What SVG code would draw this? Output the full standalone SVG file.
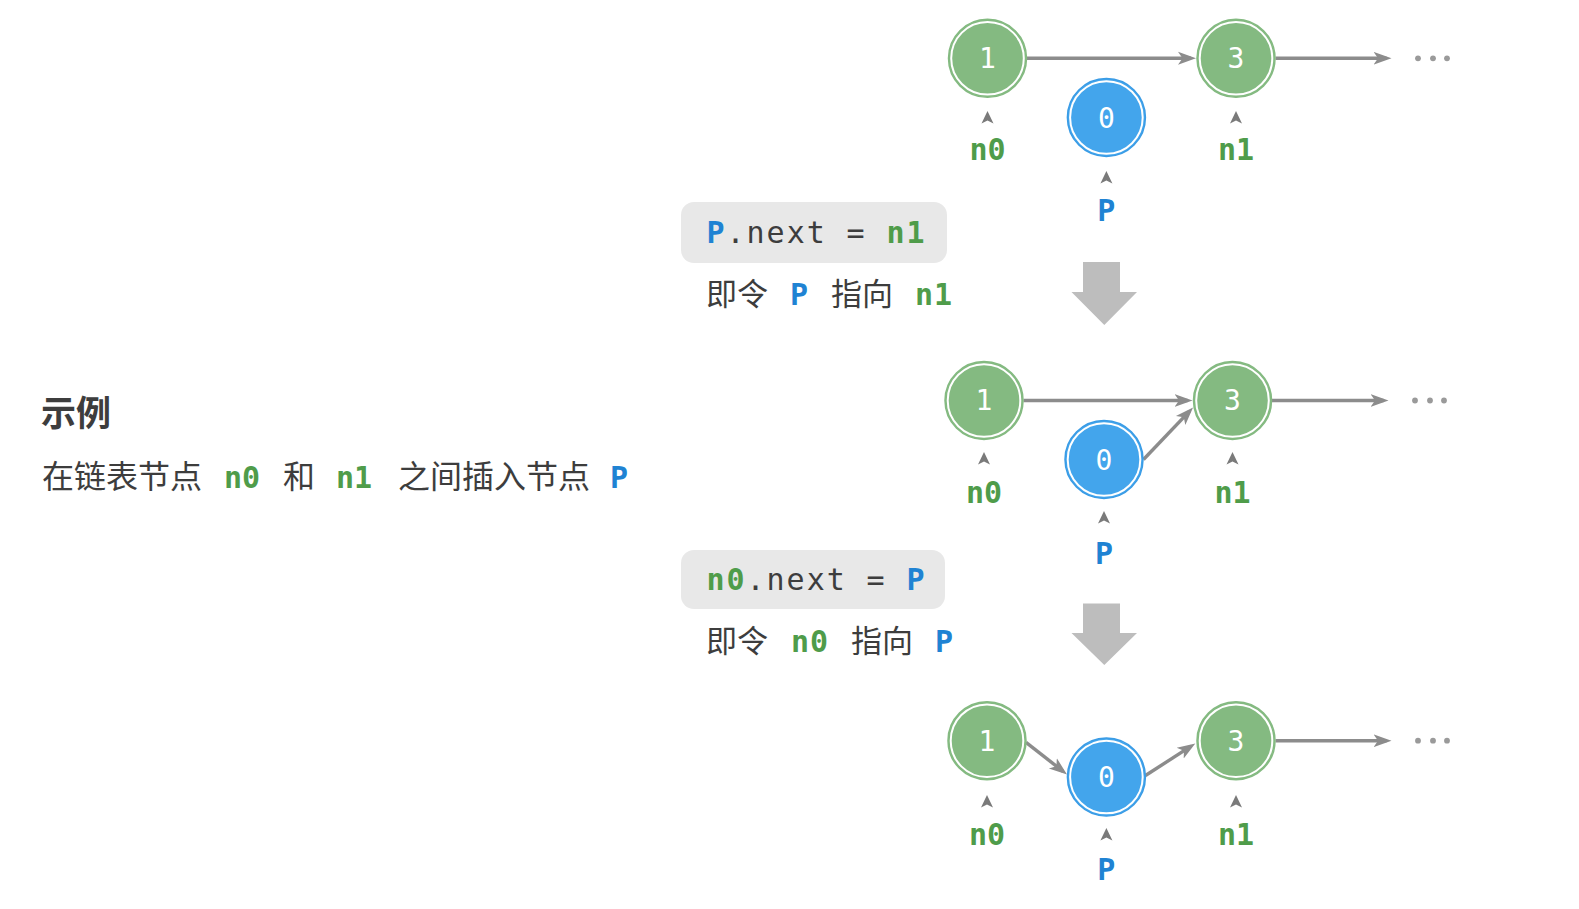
<svg xmlns="http://www.w3.org/2000/svg" xmlns:xlink="http://www.w3.org/1999/xlink" width="1579" height="909" viewBox="0 0 1579 909">
<style>
.cjk{font-family:"Noto Sans CJK SC","Noto Sans",sans-serif;fill:#3d3d3d}
.mono{font-family:"DejaVu Sans Mono","Liberation Mono",monospace}
.code{font-family:"DejaVu Sans Mono","Liberation Mono",monospace;font-size:30px;fill:#3d3d3d}
.g{fill:#4f9c4a;font-weight:bold}
.b{fill:#1f83d3;font-weight:bold}
.lbl{font-family:"DejaVu Sans Mono","Liberation Mono",monospace;font-size:30px;font-weight:bold;text-anchor:middle}
.num{font-family:"DejaVu Sans Mono","Liberation Mono",monospace;font-size:28px;fill:#ffffff;text-anchor:middle}
.gn{fill:#84ba81;stroke:#84ba81;stroke-width:1.5}
.bn{fill:#43a5ec;stroke:#3a9ce6;stroke-width:1.5}
.ring{fill:none;stroke:#ffffff;stroke-width:2}
.edge{stroke:#8c8c8c;stroke-width:3.4;fill:none}
.dot{fill:#9a9a9a}
.ptr{fill:#7a7a7a}
.box{fill:#e8e8e8}
.down{fill:#bdbdbd}
</style>
<defs>
<marker id="ah" markerUnits="userSpaceOnUse" markerWidth="20" markerHeight="16" viewBox="0 0 20 16" refX="13" refY="8" orient="auto">
<path d="M0,1.5 L18,8 L0,14.5 L4.5,8 Z" fill="#8c8c8c"/>
</marker>
<path id="pt" d="M0,-6 L6,6.5 L0,3.5 L-6,6.5 Z"/>
</defs>
<rect width="1579" height="909" fill="#ffffff"/>

<g id="intro">
<text class="cjk" x="41" y="426" font-size="35" font-weight="bold">示例</text>
<text class="cjk" x="42" y="488" font-size="32">在链表节点</text>
<text class="mono g" x="224" y="488" font-size="30">n0</text>
<text class="cjk" x="283" y="488" font-size="32">和</text>
<text class="mono g" x="336" y="488" font-size="30">n1</text>
<text class="cjk" x="398" y="488" font-size="32">之间插入节点</text>
<text class="mono b" x="610" y="488" font-size="30">P</text>
</g>

<g id="step1-code">
<rect class="box" x="681" y="202" width="266" height="61" rx="13"/>
<text class="code" y="243"><tspan class="b" x="706.5">P</tspan><tspan x="726.5" letter-spacing="2">.next</tspan><tspan x="846.5">=</tspan><tspan class="g" x="886.5" letter-spacing="2">n1</tspan></text>
<text class="cjk" x="706" y="305" font-size="31">即令</text>
<text class="mono b" x="790" y="305" font-size="30">P</text>
<text class="cjk" x="831" y="305" font-size="31">指向</text>
<text class="mono g" x="915" y="305" font-size="30" letter-spacing="1">n1</text>
</g>

<g id="step2-code">
<rect class="box" x="681" y="550" width="264" height="59" rx="13"/>
<text class="code" y="590"><tspan class="g" x="706.5" letter-spacing="2">n0</tspan><tspan x="746.5" letter-spacing="2">.next</tspan><tspan x="866.5">=</tspan><tspan class="b" x="906.5">P</tspan></text>
<text class="cjk" x="706" y="652" font-size="31">即令</text>
<text class="mono g" x="791" y="652" font-size="30" letter-spacing="1">n0</text>
<text class="cjk" x="851" y="652" font-size="31">指向</text>
<text class="mono b" x="935" y="652" font-size="30">P</text>
</g>

<g id="down-arrow-1">
<path class="down" d="M1083,262 L1120,262 L1120,292 L1137,292 L1104.3,325 L1071.5,292 L1083,292 Z"/>
</g>
<g id="down-arrow-2">
<path class="down" d="M1083,603.5 L1120,603.5 L1120,633 L1137,633 L1104.3,665 L1071.5,633 L1083,633 Z"/>
</g>

<g id="connectors">
<line class="edge" x1="1027" y1="58.3" x2="1191" y2="58.3" marker-end="url(#ah)"/>
<line class="edge" x1="1275.5" y1="58.3" x2="1386.5" y2="58.3" marker-end="url(#ah)"/>
<line class="edge" x1="1023.5" y1="400.5" x2="1187.5" y2="400.5" marker-end="url(#ah)"/>
<line class="edge" x1="1143.5" y1="459.5" x2="1189.6" y2="411.2" marker-end="url(#ah)"/>
<line class="edge" x1="1272" y1="400.5" x2="1383.5" y2="400.5" marker-end="url(#ah)"/>
<line class="edge" x1="1026" y1="742.4" x2="1063.1" y2="771.4" marker-end="url(#ah)"/>
<line class="edge" x1="1145.5" y1="775.5" x2="1191.1" y2="746.1" marker-end="url(#ah)"/>
<line class="edge" x1="1275.5" y1="740.7" x2="1386.5" y2="740.7" marker-end="url(#ah)"/>
</g>

<g id="ellipsis">
<circle class="dot" cx="1418" cy="58.3" r="2.9"/><circle class="dot" cx="1433" cy="58.3" r="2.9"/><circle class="dot" cx="1447" cy="58.3" r="2.9"/>
<circle class="dot" cx="1415" cy="400.5" r="2.9"/><circle class="dot" cx="1430" cy="400.5" r="2.9"/><circle class="dot" cx="1444" cy="400.5" r="2.9"/>
<circle class="dot" cx="1418" cy="740.7" r="2.9"/><circle class="dot" cx="1433" cy="740.7" r="2.9"/><circle class="dot" cx="1447" cy="740.7" r="2.9"/>
</g>

<!-- row 1 -->
<g id="r1-node1">
<circle class="gn" cx="987.5" cy="58.3" r="39"/><circle class="ring" cx="987.5" cy="58.3" r="36.3"/>
<text class="num" x="987.5" y="68">1</text>
<use href="#pt" xlink:href="#pt" class="ptr" x="987.5" y="117"/>
<text class="lbl g" x="987.5" y="160">n0</text>
</g>
<g id="r1-node3">
<circle class="gn" cx="1236" cy="58.3" r="39"/><circle class="ring" cx="1236" cy="58.3" r="36.3"/>
<text class="num" x="1236" y="68">3</text>
<use href="#pt" xlink:href="#pt" class="ptr" x="1236" y="117"/>
<text class="lbl g" x="1236" y="160">n1</text>
</g>
<g id="r1-node0">
<circle class="bn" cx="1106.4" cy="117.5" r="39"/><circle class="ring" cx="1106.4" cy="117.5" r="36.3"/>
<text class="num" x="1106.4" y="127.5">0</text>
<use href="#pt" xlink:href="#pt" class="ptr" x="1106.4" y="177"/>
<text class="lbl b" x="1106.4" y="221">P</text>
</g>

<!-- row 2 -->
<g id="r2-node1">
<circle class="gn" cx="984" cy="400.5" r="39"/><circle class="ring" cx="984" cy="400.5" r="36.3"/>
<text class="num" x="984" y="410">1</text>
<use href="#pt" xlink:href="#pt" class="ptr" x="984" y="458"/>
<text class="lbl g" x="984" y="503">n0</text>
</g>
<g id="r2-node3">
<circle class="gn" cx="1232.5" cy="400.5" r="39"/><circle class="ring" cx="1232.5" cy="400.5" r="36.3"/>
<text class="num" x="1232.5" y="410">3</text>
<use href="#pt" xlink:href="#pt" class="ptr" x="1232.5" y="458"/>
<text class="lbl g" x="1232.5" y="503">n1</text>
</g>
<g id="r2-node0">
<circle class="bn" cx="1104" cy="459.5" r="39"/><circle class="ring" cx="1104" cy="459.5" r="36.3"/>
<text class="num" x="1104" y="469.5">0</text>
<use href="#pt" xlink:href="#pt" class="ptr" x="1104" y="517"/>
<text class="lbl b" x="1104" y="564">P</text>
</g>

<!-- row 3 -->
<g id="r3-node1">
<circle class="gn" cx="987" cy="740.7" r="39"/><circle class="ring" cx="987" cy="740.7" r="36.3"/>
<text class="num" x="987" y="750.5">1</text>
<use href="#pt" xlink:href="#pt" class="ptr" x="987" y="801"/>
<text class="lbl g" x="987" y="845">n0</text>
</g>
<g id="r3-node3">
<circle class="gn" cx="1236" cy="740.7" r="39"/><circle class="ring" cx="1236" cy="740.7" r="36.3"/>
<text class="num" x="1236" y="750.5">3</text>
<use href="#pt" xlink:href="#pt" class="ptr" x="1236" y="801"/>
<text class="lbl g" x="1236" y="845">n1</text>
</g>
<g id="r3-node0">
<circle class="bn" cx="1106.4" cy="777" r="39"/><circle class="ring" cx="1106.4" cy="777" r="36.3"/>
<text class="num" x="1106.4" y="786.7">0</text>
<use href="#pt" xlink:href="#pt" class="ptr" x="1106.4" y="834"/>
<text class="lbl b" x="1106.4" y="880">P</text>
</g>
</svg>
